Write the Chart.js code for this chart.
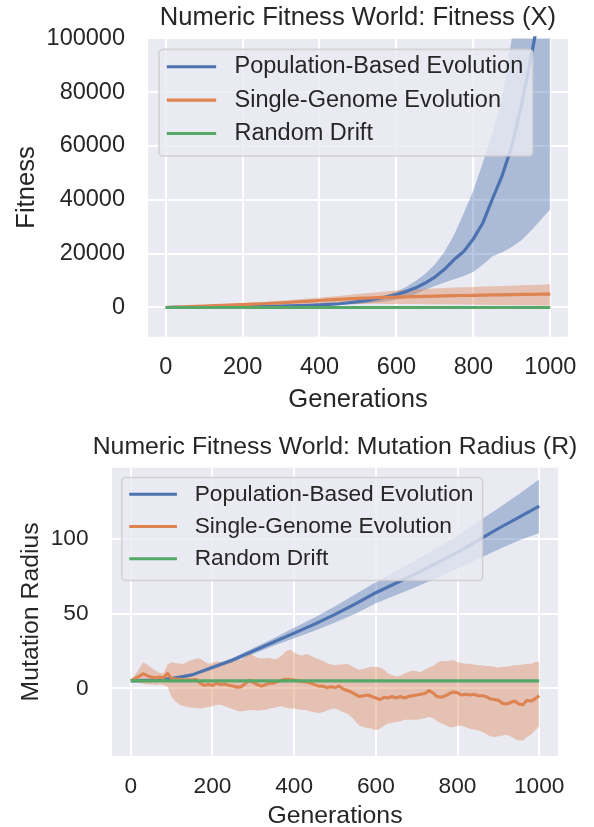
<!DOCTYPE html>
<html>
<head>
<meta charset="utf-8">
<script src="https://cdn.jsdelivr.net/npm/chart.js"></script>
<style>
    html, body { margin: 0; padding: 0; background: #ffffff; overflow: hidden; }
    canvas { position: absolute; left: 0; }
    #graficoFitness { top: 0; }
    #graficoRaio { top: 411px; }
</style>
</head>
<body>
<canvas id="graficoFitness" width="594" height="415"></canvas>
<canvas id="graficoRaio" width="594" height="420"></canvas>
<script>
const legendLabels = ["Population-Based Evolution", "Single-Genome Evolution", "Random Drift"];
const xTicks = [0, 200, 400, 600, 800, 1000];

// Fitness (X)
const fitGen = [0, 25, 50, 75, 100, 125, 150, 175, 200, 225, 250, 275, 300, 325, 350, 375, 400, 425, 450, 475,
    500, 525, 550, 575, 600, 625, 650, 675, 700, 725, 750, 775, 800, 825, 850, 875, 900, 925, 950, 975, 1000];
const fitPop = [0, 20, 50, 80, 110, 150, 190, 230, 280, 330, 390, 450, 520, 600, 690, 790, 950, 1150, 1400, 1750,
    2150, 2650, 3250, 3950, 4800, 5900, 7300, 9100, 11300, 14200, 17800, 20800, 25500, 31500, 40500, 49000, 60000, 75000, 93000, 112000, 132000];
const fitPopHi = [0, 30, 70, 110, 150, 200, 250, 300, 360, 420, 490, 570, 650, 750, 860, 990, 1150, 1380, 1650, 2000,
    2450, 3000, 3750, 4750, 5900, 7600, 9800, 12500, 16000, 20700, 27000, 35000, 43500, 54000, 65000, 78000, 100000, 128000, 158000, 188000, 220000];
const fitPopLo = [0, 10, 30, 50, 70, 100, 130, 160, 200, 240, 290, 330, 390, 450, 520, 600, 680, 780, 920, 1100,
    1300, 1550, 1900, 2350, 2900, 3700, 5000, 6600, 8000, 9300, 10500, 11700, 13200, 16000, 19000, 20500, 22500, 25000, 28500, 32500, 36500];
const fitSingle = [0, 130, 260, 390, 520, 660, 800, 950, 1100, 1250, 1400, 1580, 1760, 1950, 2150, 2350, 2600, 2800, 3000, 3200,
    3380, 3520, 3640, 3750, 3850, 3950, 4040, 4130, 4220, 4300, 4380, 4450, 4520, 4590, 4660, 4720, 4780, 4840, 4890, 4950, 5000];
const fitSingleHi = [0, 160, 330, 500, 680, 870, 1070, 1280, 1500, 1730, 1970, 2220, 2480, 2750, 3030, 3320, 3620, 3950, 4300, 4650,
    5000, 5350, 5700, 6000, 6300, 6550, 6750, 6950, 7100, 7250, 7400, 7520, 7640, 7760, 7880, 8000, 8120, 8240, 8360, 8480, 8600];
const fitSingleLo = [0, 100, 190, 280, 360, 440, 520, 600, 680, 750, 820, 890, 960, 1020, 1080, 1140, 1200, 1250, 1290, 1320,
    1340, 1350, 1350, 1340, 1320, 1300, 1270, 1240, 1200, 1160, 1120, 1080, 1040, 1000, 960, 920, 880, 840, 800, 760, 720];
const fitDrift = [0, 0, 0, 0, 0, 0, 0, 0, 0, 0, 0, 0, 0, 0, 0, 0, 0, 0, 0, 0,
    0, 0, 0, 0, 0, 0, 0, 0, 0, 0, 0, 0, 0, 0, 0, 0, 0, 0, 0, 0, 0];
const fitTicks = [0, 20000, 40000, 60000, 80000, 100000];

// Mutation Radius (R)
const radGen = [0, 10, 20, 30, 40, 50, 60, 70, 80, 90, 100, 110, 120, 130, 140, 150, 160, 170, 180, 190,
    200, 210, 220, 230, 240, 250, 260, 270, 280, 290, 300, 310, 320, 330, 340, 350, 360, 370, 380, 390,
    400, 410, 420, 430, 440, 450, 460, 470, 480, 490, 500, 510, 520, 530, 540, 550, 560, 570, 580, 590,
    600, 610, 620, 630, 640, 650, 660, 670, 680, 690, 700, 710, 720, 730, 740, 750, 760, 770, 780, 790,
    800, 810, 820, 830, 840, 850, 860, 870, 880, 890, 900, 910, 920, 930, 940, 950, 960, 970, 980, 990, 1000];
const radSingle = [5, 6.5, 8, 9.8, 8.5, 7.5, 7, 7.5, 7, 10,
    6.5, 6, 6, 5.5, 5.8, 5.5, 6, 3.5, 2, 2.5,
    2, 3.5, 2.5, 3, 2, 1.5, 0.8, 1, 3, 5.5,
    4, 2.5, 1.5, 2.5, 3.5, 3.5, 4.5, 5.5, 6, 5.8,
    5.5, 5, 4.5, 4.2, 3.5, 2.5, 1.5, 1.5, 0.5, 1,
    0.5, 1.5, -0.5, -1.5, -2.5, -4, -5.5, -5, -4.5, -5.5,
    -6.5, -7.5, -6, -6.5, -5.5, -6.5, -5.5, -6.5, -5.5, -5,
    -4.5, -4, -3.5, -1.5, -3, -5.5, -6, -5, -3.5, -2.5,
    -3, -4.5, -4, -4.5, -4, -5, -5, -5.5, -7, -7.5,
    -8, -10, -10.5, -9.5, -8.5, -10.5, -11, -8, -8.5, -7, -5];
const radSingleHi = [5, 9, 13, 17.5, 16, 14, 12, 10.5, 10, 16,
    17.5, 17, 16.5, 16.5, 18, 19, 20, 20, 18, 16.5,
    17, 18, 17.5, 18, 19, 18.5, 19.5, 19, 21, 23.5,
    22, 20.5, 20, 20, 20.5, 19.5, 20, 22, 25, 26,
    24, 22.5, 22, 23, 22, 20.5, 19.5, 18.5, 17, 16,
    15.5, 16, 16, 16.5, 15, 13.5, 12.5, 13, 14, 14.5,
    14.5, 14, 12.5, 10, 9, 8, 8.5, 10, 11, 12,
    11.5, 11, 12.5, 14, 15, 17, 18.5, 18, 18.5, 19,
    17.5, 17, 16.5, 16.5, 16, 15.5, 15.5, 15, 15, 14.5,
    14, 14.5, 14.5, 15, 15.5, 15.5, 16, 16.5, 16.5, 17.5, 18];
const radSingleLo = [5, 4.5, 3.5, 3, 2.5, 2.5, 2, 2.5, 2, 1,
    -6, -9, -11, -12, -12.5, -13, -13, -13.5, -13, -12.5,
    -12, -11, -11, -12, -13, -14, -15, -15.5, -15, -14.5,
    -14.5, -15, -14.5, -14.5, -13.5, -13, -12.5, -12, -13, -13.5,
    -13.5, -14, -14.5, -14.5, -15.5, -16, -16.5, -16, -15, -14,
    -13.5, -14.5, -16, -17, -19, -22, -25, -26, -26.5, -27,
    -28, -27, -25, -23.5, -23, -22.5, -22, -21, -21, -21,
    -21, -20.5, -20, -19, -20, -22, -23.5, -24.5, -26, -26,
    -25, -25, -26, -27, -27.5, -28, -29, -30.5, -32, -32.5,
    -32, -31.5, -31, -32, -34, -35, -35, -32.5, -31, -28, -25.5];
const radGenCoarse = [0, 50, 100, 150, 200, 250, 300, 350, 400, 450, 500, 550, 600, 650, 700, 750, 800, 850, 900, 950, 1000];
const radPop = [5, 5.5, 6.5, 9, 14, 19, 25, 31, 37, 43, 49.5, 56.5, 64, 70.5, 77, 84, 91, 99, 107, 114.5, 122];
const radPopHi = [5, 6, 7.5, 10, 15.5, 20.5, 27, 33.5, 40.5, 47.5, 55, 63, 71, 78.5, 86, 94, 102, 111.5, 120.5, 130, 140];
const radPopLo = [5, 5, 5.5, 8, 12.5, 17.5, 23, 28.5, 33.5, 38.5, 44, 50, 57, 62.5, 68, 74, 80, 86.5, 93, 99, 104];
const radDrift = [5, 5, 5, 5, 5, 5, 5, 5, 5, 5, 5, 5, 5, 5, 5, 5, 5, 5, 5, 5, 5];
const radTicks = [0, 50, 100];

const cores = {
    azul: "#4c72b0",
    laranja: "#dd8452",
    verde: "#55a868",
    azulFaixa: "rgba(76, 114, 176, 0.4)",
    laranjaFaixa: "rgba(221, 132, 82, 0.4)",
    texto: "#262626",
    fundo: "#eaeaf2"
};
const fonte = "'Liberation Sans', Arial, sans-serif";

function pontos(xs, ys) {
    return xs.map((x, i) => ({ x: x, y: ys[i] }));
}

function linha(label, data, cor, ordem, lw) {
    return { label: label, data: data, borderColor: cor, borderWidth: lw, fill: false, order: ordem,
        pointRadius: 0, borderJoinStyle: "round", clip: 2 };
}

function faixa(data, cor, ordem, alvo) {
    return { data: data, borderColor: "rgba(0,0,0,0)", borderWidth: 0, backgroundColor: cor || "rgba(0,0,0,0)",
        fill: alvo === false ? false : alvo, order: ordem, pointRadius: 0 };
}

const fundoPlugin = {
    id: "fundo",
    beforeDraw(chart) {
        const { ctx, chartArea: a } = chart;
        ctx.save();
        ctx.fillStyle = cores.fundo;
        ctx.fillRect(a.left, a.top, a.right - a.left, a.bottom - a.top);
        ctx.restore();
    }
};

// titulo centrado sobre a area do grafico (sem encolher o texto)
const tituloPlugin = {
    id: "tituloEixos",
    afterDraw(chart, args, opts) {
        const { ctx, chartArea: a } = chart;
        ctx.save();
        ctx.font = opts.size + "px " + fonte;
        ctx.fillStyle = cores.texto;
        ctx.textAlign = "center";
        ctx.textBaseline = "alphabetic";
        ctx.fillText(opts.text, (a.left + a.right) / 2, opts.baseline);
        ctx.restore();
    }
};

// legenda no canto superior esquerdo, como a do matplotlib
const legendaPlugin = {
    id: "legendaDentro",
    afterDraw(chart, args, opts) {
        const { ctx, chartArea } = chart;
        const fs = opts.fontSize;
        const itens = chart.data.datasets.filter(d => d.label);
        ctx.save();
        ctx.font = fs + "px " + fonte;
        const tw = Math.max(...itens.map(d => ctx.measureText(d.label).width));
        const x0 = chartArea.left + opts.offset * fs;
        const y0 = chartArea.top + opts.offset * fs;
        const w = 3.62 * fs + tw;
        const h = 4.54 * fs;
        const r = 4;
        ctx.beginPath();
        ctx.moveTo(x0 + r, y0);
        ctx.arcTo(x0 + w, y0, x0 + w, y0 + h, r);
        ctx.arcTo(x0 + w, y0 + h, x0, y0 + h, r);
        ctx.arcTo(x0, y0 + h, x0, y0, r);
        ctx.arcTo(x0, y0, x0 + w, y0, r);
        ctx.closePath();
        ctx.fillStyle = "rgba(234, 234, 242, 0.8)";
        ctx.fill();
        ctx.strokeStyle = "rgba(204, 204, 204, 0.8)";
        ctx.lineWidth = 1.6;
        ctx.stroke();
        itens.forEach((d, i) => {
            const y = y0 + 0.74 * fs + i * 1.42 * fs;
            ctx.strokeStyle = d.borderColor;
            ctx.lineWidth = d.borderWidth;
            ctx.beginPath();
            ctx.moveTo(x0 + 0.33 * fs, y);
            ctx.lineTo(x0 + 2.43 * fs, y);
            ctx.stroke();
            ctx.fillStyle = cores.texto;
            ctx.textAlign = "left";
            ctx.textBaseline = "middle";
            ctx.fillText(d.label, x0 + 3.21 * fs, y);
        });
        ctx.restore();
    }
};

function criarGrafico(id, cfg) {
    const ctx = document.getElementById(id).getContext("2d");
    const fonteTick = { family: fonte, size: cfg.tickSize };
    const fonteLabel = { family: fonte, size: cfg.labelSize };
    return new Chart(ctx, {
        type: "line",
        data: {
            datasets: [
                linha(legendLabels[0], pontos(cfg.xPop, cfg.pop), cores.azul, 2, cfg.lw),
                linha(legendLabels[1], pontos(cfg.xSingle, cfg.single), cores.laranja, 1, cfg.lw),
                linha(legendLabels[2], pontos(cfg.xPop, cfg.drift), cores.verde, 0, cfg.lw),
                faixa(pontos(cfg.xPop, cfg.popHi), cores.azulFaixa, 5, 4),
                faixa(pontos(cfg.xPop, cfg.popLo), null, 6, false),
                faixa(pontos(cfg.xSingle, cfg.singleHi), cores.laranjaFaixa, 3, 6),
                faixa(pontos(cfg.xSingle, cfg.singleLo), null, 4, false)
            ]
        },
        options: {
            responsive: false,
            animation: false,
            events: [],
            layout: { padding: { left: 0, right: cfg.padRight, top: cfg.padTop, bottom: 0 } },
            plugins: {
                legend: { display: false },
                tooltip: { enabled: false },
                title: { display: false },
                filler: { drawTime: "beforeDatasetsDraw", propagate: false },
                tituloEixos: { text: cfg.title, size: cfg.labelSize, baseline: cfg.titleBaseline },
                legendaDentro: { fontSize: cfg.tickSize, offset: cfg.legOffset }
            },
            scales: {
                x: {
                    type: "linear",
                    min: -46,
                    max: 1046,
                    afterFit: s => { s.height = cfg.xAxisH; },
                    afterBuildTicks: s => { s.ticks = xTicks.map(v => ({ value: v })); },
                    grid: { color: "#ffffff", lineWidth: cfg.gridW, drawTicks: false },
                    border: { display: false },
                    ticks: { color: cores.texto, font: fonteTick, padding: cfg.xTickPad, maxRotation: 0, autoSkip: false,
                        callback: v => String(v) },
                    title: { display: true, text: "Generations", color: cores.texto, font: fonteLabel,
                        padding: { top: 0, bottom: 0 } }
                },
                y: {
                    type: "linear",
                    min: cfg.yMin,
                    max: cfg.yMax,
                    afterFit: s => { s.width = cfg.yAxisW; },
                    afterBuildTicks: s => { s.ticks = cfg.yTicks.map(v => ({ value: v })); },
                    grid: { color: "#ffffff", lineWidth: cfg.gridW, drawTicks: false },
                    border: { display: false },
                    ticks: { color: cores.texto, font: fonteTick, padding: cfg.yTickPad, autoSkip: false,
                        callback: v => String(v) },
                    title: { display: true, text: cfg.yTitle, color: cores.texto, font: fonteLabel,
                        padding: { top: cfg.yTitlePad, bottom: 0 } }
                }
            }
        },
        plugins: [fundoPlugin, tituloPlugin, legendaPlugin]
    });
}

criarGrafico("graficoFitness", {
    title: "Numeric Fitness World: Fitness (X)",
    yTitle: "Fitness",
    xPop: fitGen, pop: fitPop, popHi: fitPopHi, popLo: fitPopLo, drift: fitDrift,
    xSingle: fitGen, single: fitSingle, singleHi: fitSingleHi, singleLo: fitSingleLo,
    yMin: -10850, yMax: 100000, yTicks: fitTicks,
    tickSize: 23.5, labelSize: 25.6, lw: 3.2, gridW: 2.1,
    padRight: 23.5, padTop: 38.3, yAxisW: 148, xAxisH: 78.3,
    titleBaseline: 24.5,
    xTickPad: 16.6, yTickPad: 23, yTitlePad: 11.8, legOffset: 0.47
});

criarGrafico("graficoRaio", {
    title: "Numeric Fitness World: Mutation Radius (R)",
    yTitle: "Mutation Radius",
    xPop: radGenCoarse, pop: radPop, popHi: radPopHi, popLo: radPopLo, drift: radDrift,
    xSingle: radGen, single: radSingle, singleHi: radSingleHi, singleLo: radSingleLo,
    yMin: -45.3, yMax: 147.7, yTicks: radTicks,
    tickSize: 22.7, labelSize: 24.8, lw: 3.1, gridW: 2,
    padRight: 36, padTop: 56.7, yAxisW: 112, xAxisH: 75,
    titleBaseline: 42.5,
    xTickPad: 17.5, yTickPad: 23.5, yTitlePad: 16.5, legOffset: 0.43
});
</script>
</body>
</html>
